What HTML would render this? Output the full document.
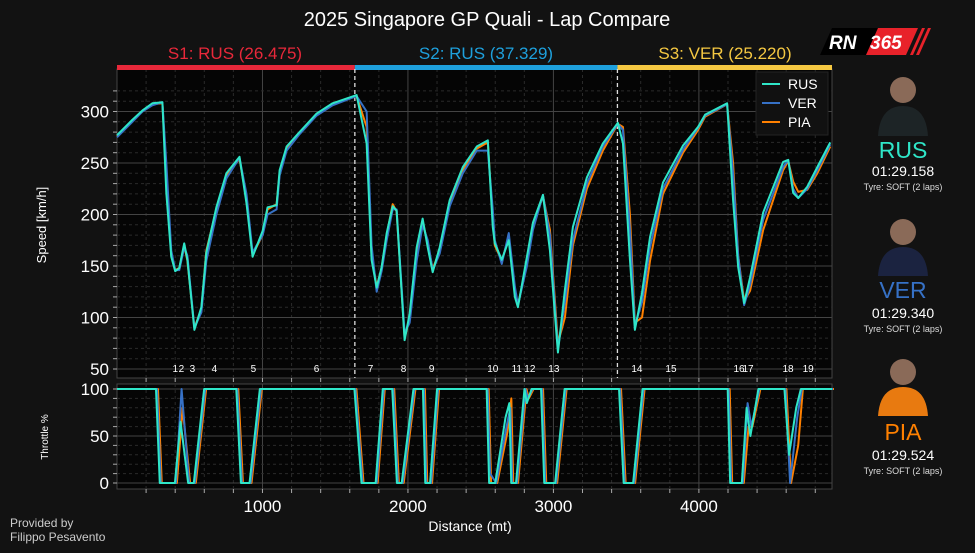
<!DOCTYPE html>
<html><head><meta charset="utf-8">
<style>
body{margin:0;background:#121212;width:975px;height:548px;overflow:hidden;font-family:"Liberation Sans",sans-serif;color:#fff}
svg text{font-family:"Liberation Sans",sans-serif}
</style></head>
<body>
<svg id="c" width="975" height="548">
<rect width="975" height="548" fill="#121212"/>
<text x="487" y="26" text-anchor="middle" font-size="20" fill="#fff">2025 Singapore GP Quali - Lap Compare</text>
<text x="235" y="59" text-anchor="middle" font-size="17" fill="#e8283a">S1: RUS (26.475)</text>
<text x="486" y="59" text-anchor="middle" font-size="17" fill="#1ea0dc">S2: RUS (37.329)</text>
<text x="725" y="59" text-anchor="middle" font-size="17" fill="#f5c842">S3: VER (25.220)</text>
<g>
<polygon points="820,55 832,28 880,28 868,55" fill="#000"/>
<polygon points="866,55 878,28 918,28 906,55" fill="#e8222a"/>
<polygon points="910,55 922,28 925,28 913,55" fill="#e8222a"/>
<polygon points="916,55 928,28 931,28 919,55" fill="#e8222a"/>
<text x="829" y="49" font-size="19" font-weight="bold" font-style="italic" fill="#fff">RN</text>
<text x="870" y="49" font-size="19" font-weight="bold" font-style="italic" fill="#fff">365</text>
</g>
<text x="46" y="225" text-anchor="middle" font-size="13" fill="#fff" transform="rotate(-90 46 225)">Speed [km/h]</text>
<text x="48" y="437" text-anchor="middle" font-size="10" fill="#fff" transform="rotate(-90 48 437)">Throttle %</text>
<text x="470" y="531" text-anchor="middle" font-size="14" fill="#fff">Distance (mt)</text>
<text x="10" y="527" font-size="12" fill="#ccc">Provided by</text>
<text x="10" y="541" font-size="12" fill="#ccc">Filippo Pesavento</text>
<g id="g"></g>
<g>
 <g>
  <circle cx="903" cy="90" r="13" fill="#8a6a58"/><path d="M878,136 Q880,106 903,106 Q926,106 928,136 Z" fill="#1d2426"/>
  <text x="903" y="158" text-anchor="middle" font-size="23" fill="#2fe6c8">RUS</text>
  <text x="903" y="176" text-anchor="middle" font-size="14" fill="#fff">01:29.158</text>
  <text x="903" y="190" text-anchor="middle" font-size="9" fill="#ddd">Tyre: SOFT (2 laps)</text>
 </g>
 <g>
  <circle cx="903" cy="232" r="13" fill="#8a6a58"/><path d="M878,276 Q880,247 903,247 Q926,247 928,276 Z" fill="#1b2340"/>
  <text x="903" y="298" text-anchor="middle" font-size="23" fill="#3671c6">VER</text>
  <text x="903" y="318" text-anchor="middle" font-size="14" fill="#fff">01:29.340</text>
  <text x="903" y="332" text-anchor="middle" font-size="9" fill="#ddd">Tyre: SOFT (2 laps)</text>
 </g>
 <g>
  <circle cx="903" cy="372" r="13" fill="#8a6a58"/><path d="M878,416 Q880,387 903,387 Q926,387 928,416 Z" fill="#e87a10"/>
  <text x="903" y="440" text-anchor="middle" font-size="23" fill="#ff8000">PIA</text>
  <text x="903" y="460" text-anchor="middle" font-size="14" fill="#fff">01:29.524</text>
  <text x="903" y="474" text-anchor="middle" font-size="9" fill="#ddd">Tyre: SOFT (2 laps)</text>
 </g>
</g>
</svg>
<script>
const dist=[0,106,175,243,312,339,373,400,428,462,484,532,580,614,683,752,842,890,932,1001,1035,1097,1118,1166,1255,1372,1482,1647,1716,1750,1785,1819,1854,1895,1922,1977,2012,2060,2101,2136,2170,2218,2287,2377,2473,2549,2583,2597,2645,2693,2735,2756,2818,2859,2928,2976,3031,3079,3134,3230,3340,3443,3478,3526,3560,3609,3664,3753,3891,3994,4043,4194,4235,4270,4311,4352,4442,4579,4614,4648,4683,4745,4814,4903];
const rusSpeed=[277,292,301,308,309,221,159,145,148,172,156,88,110,163,207,240,256,211,159,184,207,209,243,266,280,298,308,316,269,156,129,149,182,208,204,78,104,168,196,168,144,168,214,246,266,272,188,172,156,175,120,110,159,192,219,165,66,127,188,236,269,289,269,156,88,124,178,231,267,285,297,308,214,149,114,139,202,251,253,221,216,227,246,270];
const verSpeed=[275,290,300,306,309,250,165,146,146,168,160,90,105,155,200,235,255,220,163,180,200,205,238,262,278,296,306,315,300,170,125,145,175,205,205,85,95,155,190,175,146,162,208,240,262,262,205,175,152,182,130,112,150,185,219,180,70,115,175,230,266,288,282,185,92,115,168,225,263,284,296,307,240,160,112,132,195,246,253,225,216,225,243,268];
const piaSpeed=[276,291,300,307,308,240,160,146,148,170,155,90,108,165,205,238,254,215,161,180,205,210,240,264,279,297,307,315,285,160,130,148,180,210,203,80,100,160,193,172,147,165,210,243,264,270,195,170,155,178,125,112,153,188,218,185,75,100,170,225,262,288,285,200,95,100,155,220,260,282,295,307,250,160,116,126,185,243,252,232,222,224,240,266];
const thrDist=[0,268,294,398,437,489,528,599,820,852,911,982,1632,1681,1778,1827,1892,1924,1957,2038,2103,2119,2152,2200,2541,2558,2600,2671,2697,2710,2743,2801,2817,2850,2915,2937,3012,3077,3451,3483,3548,3613,4198,4215,4295,4328,4354,4409,4588,4620,4669,4701,4915];
const rusThr=[100,100,0,0,65,0,0,100,100,0,0,100,100,0,0,100,100,0,0,100,100,0,0,100,100,0,0,70,85,0,0,100,85,100,100,0,0,100,100,0,0,100,100,0,0,80,50,100,100,30,80,100,100];
const verThr=[100,100,0,0,100,0,0,100,100,0,0,100,100,0,0,100,100,0,0,100,100,0,0,100,100,10,0,60,80,0,0,100,90,100,100,0,0,100,100,0,0,100,100,0,0,85,60,100,100,0,70,100,100];
const piaThr=[100,100,0,0,80,0,0,100,100,0,0,100,100,0,0,100,100,0,0,100,100,0,0,100,100,0,0,55,90,0,0,100,90,100,100,0,0,100,100,0,0,100,100,0,0,60,60,100,100,0,40,100,100];
const cornerNums=["1","2","3","4","5","6","7","8","9","10","11","12","13","14","15","16","17","18","19"];
const cornerDist=[401,443,518,670,938,1372,1743,1970,2163,2583,2748,2838,3003,3574,3808,4276,4338,4613,4751];
const sectorEnds=[1635,3440];
const xTicks=[1000,2000,3000,4000];
const speedTicks=[50,100,150,200,250,300];
const thrTicks=[0,50,100];

const NS="http://www.w3.org/2000/svg";
const L=117,R=832,XMAX=4915;
const X=d=>L+d/XMAX*(R-L);
const SP=v=>369-(v-50)*1.03;
const TH=p=>483-p*0.94;
const g=document.getElementById('g');
function mk(t,a,p){const e=document.createElementNS(NS,t);for(const k in a)e.setAttribute(k,a[k]);(p||g).appendChild(e);return e;}

const sp=mk('rect',{x:L,y:69,width:R-L,height:309,fill:'#050505',stroke:'#444'});


const tp=mk('rect',{x:L,y:384,width:R-L,height:105,fill:'#050505',stroke:'#444'});


for(let d=200;d<XMAX;d+=200){
 const maj=d%1000===0;
 mk('line',{x1:X(d),x2:X(d),y1:69,y2:378,stroke:maj?'#444':'#2a2a2a','stroke-dasharray':maj?'':'3,3'});
 mk('line',{x1:X(d),x2:X(d),y1:384,y2:489,stroke:maj?'#444':'#2a2a2a','stroke-dasharray':maj?'':'3,3'});
 mk('line',{x1:X(d),x2:X(d),y1:378,y2:382,stroke:'#aaa'});
 mk('line',{x1:X(d),x2:X(d),y1:489,y2:493,stroke:'#aaa'});
}
for(let v=50;v<=320;v+=10){
 const maj=v%50===0;
 mk('line',{x1:L,x2:R,y1:SP(v),y2:SP(v),stroke:maj?'#444':'#2a2a2a','stroke-dasharray':maj?'':'3,3'});
 mk('line',{x1:L-4,x2:L,y1:SP(v),y2:SP(v),stroke:'#aaa'});
}
for(let v=0;v<=100;v+=10){
 const maj=v%50===0;
 mk('line',{x1:L,x2:R,y1:TH(v),y2:TH(v),stroke:maj?'#444':'#2a2a2a','stroke-dasharray':maj?'':'3,3'});
 mk('line',{x1:L-4,x2:L,y1:TH(v),y2:TH(v),stroke:'#aaa'});
}
speedTicks.forEach(v=>{const t=mk('text',{x:L-8,y:SP(v)+6,'text-anchor':'end','font-size':17,fill:'#fff'});t.textContent=v;

});
thrTicks.forEach(v=>{const t=mk('text',{x:L-8,y:TH(v)+6,'text-anchor':'end','font-size':17,fill:'#fff'});t.textContent=v;

});
xTicks.forEach(v=>{const t=mk('text',{x:X(v),y:512,'text-anchor':'middle','font-size':17,fill:'#fff'});t.textContent=v;

});
const secCols=['#e8283a','#1ea0dc','#f5c842'];
const bounds=[0,sectorEnds[0],sectorEnds[1],XMAX];
for(let i=0;i<3;i++){const r=mk('rect',{x:X(bounds[i]),y:65,width:X(bounds[i+1])-X(bounds[i]),height:5,fill:secCols[i]});

}
sectorEnds.forEach(d=>{
 const l1=mk('line',{x1:X(d),x2:X(d),y1:69,y2:378,stroke:'#ddd','stroke-dasharray':'4,3','stroke-width':1.3});
 
 
});
cornerNums.forEach((n,i)=>{const t=mk('text',{x:X(cornerDist[i]),y:372,'text-anchor':'middle','font-size':10,fill:'#fff'});t.textContent=n;

});
function line(xs,ys,fy,col,name,shift){
 const p=mk('polyline',{points:xs.map((d,i)=>(X(d)+(shift||0))+','+fy(ys[i])).join(' '),fill:'none',stroke:col,'stroke-width':2,'stroke-linejoin':'round'});
 
 
}
line(dist,piaSpeed,SP,'#ff8000','pia-speed-line');
line(dist,verSpeed,SP,'#3671c6','ver-speed-line');
line(dist,rusSpeed,SP,'#2fe6c8','rus-speed-line');
line(thrDist,piaThr,TH,'#ff8000','pia-throttle-line',2);
line(thrDist,verThr,TH,'#3671c6','ver-throttle-line',1);
line(thrDist,rusThr,TH,'#2fe6c8','rus-throttle-line');
const lg=mk('g',{});


mk('rect',{x:756,y:72,width:72,height:63,fill:'#111',stroke:'#222'},lg);
[['RUS','#2fe6c8'],['VER','#3671c6'],['PIA','#ff8000']].forEach((e,i)=>{
 const y=84+i*19;
 mk('line',{x1:762,x2:780,y1:y,y2:y,stroke:e[1],'stroke-width':2},lg);
 const t=mk('text',{x:788,y:y+5,'font-size':14,fill:'#fff'},lg);t.textContent=e[0];
 
 
});
</script>
</body></html>
